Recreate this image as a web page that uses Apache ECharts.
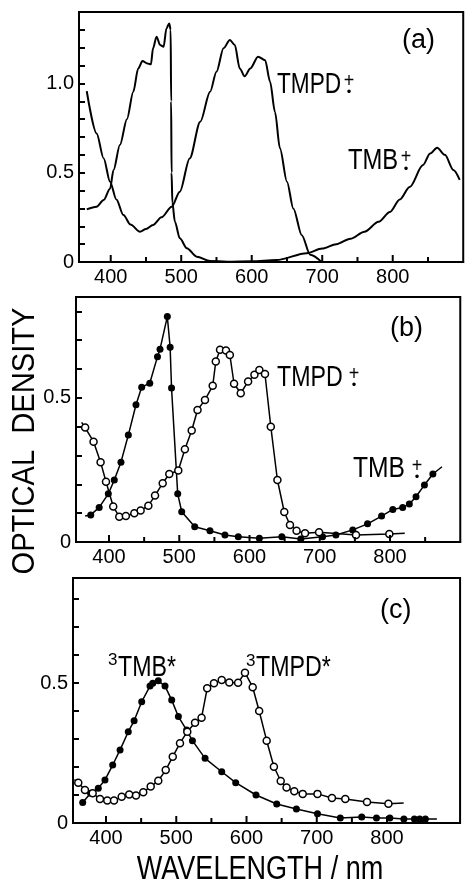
<!DOCTYPE html>
<html>
<head>
<meta charset="utf-8">
<script src="https://cdn.jsdelivr.net/npm/echarts@6/dist/echarts.min.js"></script>
<style>
html,body{margin:0;padding:0;background:#fff;}
#chart{width:466px;height:884px;}
</style>
</head>
<body>
<div id="chart"></div>
<script>
// axis ticks and labels
var xTicks = [400, 450, 500, 550, 600, 650, 700, 750, 800, 850];
var xLabels = [400, 500, 600, 700, 800];
var yLabelsA = [0, 0.5, 1.0];
var yLabelsBC = [0, 0.5];
var yTickStep = 0.1;

// (a) TMB+ and TMPD+ spectra (lines)
var tmbA_x = [366, 380, 390, 399, 404, 413, 423, 432, 439, 445, 452, 457, 460, 465, 470, 475, 479, 483, 485, 485.7, 486.3, 487.5, 491, 498, 508, 522, 541, 565, 600, 635, 678, 700, 720, 740, 760, 780, 796, 810, 824, 843, 853, 863, 874, 886, 895];
var tmbA_y = [0.295, 0.31, 0.347, 0.41, 0.515, 0.655, 0.80, 0.954, 1.084, 1.125, 1.112, 1.107, 1.197, 1.262, 1.215, 1.205, 1.308, 1.336, 1.30, 0.9, 0.5, 0.33, 0.226, 0.133, 0.077, 0.03, 0.006, 0.002, 0.004, 0.011, 0.049, 0.075, 0.10, 0.13, 0.17, 0.225, 0.28, 0.35, 0.42, 0.543, 0.608, 0.64, 0.60, 0.515, 0.46];
var tmpdA_x = [366, 380, 390, 399, 408, 418, 428, 441.5, 450, 460, 472, 486.5, 498, 512, 527, 541, 550, 560, 569, 576, 583, 590, 598, 609, 619, 626, 633, 640, 650, 659, 671, 683, 699];
var tmpdA_y = [0.957, 0.72, 0.58, 0.45, 0.35, 0.263, 0.21, 0.17, 0.185, 0.207, 0.25, 0.31, 0.394, 0.58, 0.786, 0.954, 1.066, 1.197, 1.243, 1.215, 1.084, 1.04, 1.084, 1.15, 1.13, 1.01, 0.84, 0.637, 0.45, 0.30, 0.15, 0.04, 0];

// (b) TMB+ (filled) and TMPD+ (open), first/last points are line ends without a mark
var tmbB_x = [366, 374, 386, 399, 407.5, 417, 427.5, 438.4, 446.5, 458, 469, 472.6, 483, 487, 489, 497.8, 503.5, 522, 543.7, 565, 584, 614, 646, 673, 704, 723, 747, 768, 788, 804, 818, 827.5, 837, 849, 861, 874];
var tmbB_y = [0.09, 0.094, 0.12, 0.167, 0.215, 0.277, 0.371, 0.476, 0.537, 0.551, 0.643, 0.669, 0.782, 0.676, 0.534, 0.167, 0.105, 0.053, 0.039, 0.024, 0.018, 0.013, 0.018, 0.01, 0.018, 0.024, 0.042, 0.063, 0.09, 0.113, 0.12, 0.132, 0.157, 0.198, 0.236, 0.261];
var tmpdB_x = [361, 366, 378, 388, 395.7, 406, 414.6, 424, 436, 445, 456, 465.5, 476.4, 485.8, 498.6, 508, 517.7, 526, 536.6, 547.6, 552, 558, 566.5, 572, 578, 587.5, 598, 607, 614, 622, 630.3, 639.7, 649.5, 657.6, 667, 679, 699, 751.6, 799, 821];
var tmpdB_y = [0.415, 0.397, 0.348, 0.277, 0.209, 0.123, 0.088, 0.09, 0.10, 0.109, 0.126, 0.161, 0.204, 0.236, 0.248, 0.322, 0.387, 0.458, 0.493, 0.542, 0.626, 0.667, 0.664, 0.649, 0.549, 0.516, 0.557, 0.58, 0.597, 0.583, 0.40, 0.215, 0.104, 0.059, 0.039, 0.030, 0.034, 0.024, 0.028, 0.03];

// (c) 3TMB* (filled) and 3TMPD* (open)
var tmbC_x = [366.8, 378, 389, 398.5, 409.5, 420, 431.7, 440, 450.8, 462.6, 466.5, 474.4, 484, 493.5, 503, 514.8, 523, 541, 564.7, 584.6, 613.5, 643, 671, 701, 733.5, 764, 785, 804, 824, 839, 846.5, 854.6, 871];
var tmbC_y = [0.073, 0.106, 0.124, 0.154, 0.207, 0.261, 0.326, 0.365, 0.433, 0.489, 0.499, 0.508, 0.489, 0.439, 0.38, 0.332, 0.294, 0.231, 0.183, 0.144, 0.10, 0.068, 0.05, 0.033, 0.018, 0.021, 0.018, 0.018, 0.014, 0.014, 0.014, 0.014, 0.014];
var tmpdC_x = [355, 360.5, 370, 381, 391.4, 401.8, 411.4, 422.3, 433, 442.7, 453, 463.6, 474.4, 485, 495, 505.3, 515.7, 526.7, 536, 544, 553.7, 564.7, 575.5, 588, 597.8, 608.8, 618, 628.7, 639, 648.7, 657, 668, 680, 701, 721.6, 740.6, 771.5, 802, 823.7];
var tmpdC_y = [0.155, 0.144, 0.118, 0.106, 0.086, 0.080, 0.080, 0.094, 0.102, 0.098, 0.11, 0.13, 0.151, 0.189, 0.237, 0.285, 0.326, 0.358, 0.376, 0.481, 0.499, 0.511, 0.502, 0.501, 0.537, 0.485, 0.40, 0.294, 0.201, 0.15, 0.127, 0.113, 0.104, 0.104, 0.089, 0.086, 0.075, 0.069, 0.071];

var FONT = "'Liberation Sans', Arial, sans-serif";

// panel frames: left/top/height in px, x range in nm, y max, px per nm
var panels = [
    { left: 79, top: 12, height: 250, xmin: 355, xmax: 900, ymax: 1.4, k: 0.705, yLabels: yLabelsA },
    { left: 76, top: 297, height: 245, xmin: 353, xmax: 900, ymax: 0.85, k: 0.7025, yLabels: yLabelsBC },
    { left: 73, top: 578, height: 245, xmin: 353, xmax: 904, ymax: 0.875, k: 0.7025, yLabels: yLabelsBC }
];

function pairs(xs, ys, bare) {
    return xs.map(function (x, i) {
        var d = { value: [x, ys[i]] };
        if (bare && bare.indexOf(i) >= 0) d.symbol = 'none';
        return d;
    });
}

var grids = [], xAxes = [], yAxes = [], series = [];
panels.forEach(function (p, i) {
    grids.push({ left: p.left, top: p.top, width: (p.xmax - p.xmin) * p.k, height: p.height,
        show: true, borderColor: '#000', borderWidth: 2 });
    xAxes.push({ type: 'value', gridIndex: i, min: p.xmin, max: p.xmax,
        axisLine: { lineStyle: { color: '#000', width: 2 } },
        axisTick: { show: false },
        axisLabel: { customValues: xLabels, margin: 5, color: '#000', fontSize: 20, fontFamily: FONT },
        splitLine: { show: false } });
    yAxes.push({ type: 'value', gridIndex: i, min: 0, max: p.ymax, interval: yTickStep,
        axisLine: { show: true, lineStyle: { color: '#000', width: 2 } },
        axisTick: { show: true, inside: true, length: 6, lineStyle: { color: '#000', width: 2 } },
        axisLabel: { margin: 5, color: '#000', fontSize: 20, fontFamily: FONT,
            formatter: function (v) {
                for (var j = 0; j < p.yLabels.length; j++) {
                    if (Math.abs(v - p.yLabels[j]) < 1e-6) return v === 0 ? '0' : v.toFixed(1);
                }
                return '';
            } },
        splitLine: { show: false } });
    // x ticks inward: long at labelled values, short between
    series.push({
        type: 'custom', xAxisIndex: i, yAxisIndex: i, silent: true, z: 5,
        data: xTicks.map(function (v) { return [v, 0]; }),
        encode: { x: 0, y: 1 },
        renderItem: function (params, api) {
            var v = api.value(0);
            var c = api.coord([v, 0]);
            var len = (v % 100 === 0) ? 7 : 5;
            return { type: 'line', shape: { x1: c[0], y1: c[1], x2: c[0], y2: c[1] - len },
                style: { stroke: '#000', lineWidth: 2 } };
        }
    });
});

function plain(name, gi, xs, ys) {
    return {
        name: name, type: 'line', xAxisIndex: gi, yAxisIndex: gi,
        data: pairs(xs, ys), showSymbol: false, smooth: 0.3, smoothMonotone: 'x',
        lineStyle: { color: '#000', width: 2 }
    };
}

function marked(name, gi, xs, ys, open, bare) {
    return {
        name: name, type: 'line', xAxisIndex: gi, yAxisIndex: gi,
        data: pairs(xs, ys, bare), symbol: 'circle', symbolSize: 7,
        lineStyle: { color: '#000', width: 1.5 },
        itemStyle: open ? { color: '#fff', borderColor: '#000', borderWidth: 1.5 } : { color: '#000' }
    };
}

function txt(s, x, y, size, sx, align, rot) {
    return {
        type: 'text', x: x, y: y, rotation: rot || 0, scaleX: sx || 1,
        style: { text: s, fontFamily: FONT, fontSize: size, fill: '#000', align: align || 'left', verticalAlign: 'middle' }
    };
}

// radical cation mark: "+" above a dot
function radical(cx, cyPlus, cyDot) {
    return [txt('+', cx, cyPlus, 20, 0.9, 'center'), txt('•', cx, cyDot, 13, 1, 'center')];
}

series = series.concat([
    plain('TMB+ (a)', 0, tmbA_x, tmbA_y),
    plain('TMPD+ (a)', 0, tmpdA_x, tmpdA_y),
    marked('TMB+ (b)', 1, tmbB_x, tmbB_y, false, [0, tmbB_x.length - 1]),
    marked('TMPD+ (b)', 1, tmpdB_x, tmpdB_y, true, [0, tmpdB_x.length - 1]),
    marked('3TMB* (c)', 2, tmbC_x, tmbC_y, false, [tmbC_x.length - 1]),
    marked('3TMPD* (c)', 2, tmpdC_x, tmpdC_y, true, [0, tmpdC_x.length - 1])
]);

var chart = echarts.init(document.getElementById('chart'));
var option = {
    backgroundColor: '#fff',
    animation: false,
    grid: grids,
    xAxis: xAxes,
    yAxis: yAxes,
    series: series,
    graphic: [
        txt('(a)', 402, 41, 27),
        txt('TMPD', 277, 85, 29, 0.78)
    ].concat(radical(349, 81, 92),
        [txt('TMB', 348, 161, 29, 0.82)], radical(406, 157, 169),
        [txt('(b)', 390, 329, 27), txt('TMPD', 277, 378, 29, 0.8)], radical(354, 374, 385),
        [txt('TMB', 353, 469, 29, 0.85)], radical(417, 466, 477),
        [txt('(c)', 380, 611, 27),
         txt('3', 108, 660, 17), txt('TMB*', 118, 668, 29, 0.8),
         txt('3', 246, 661, 17), txt('TMPD*', 256, 668, 29, 0.8),
         txt('OPTICAL  DENSITY', 25, 441, 32, 0.91, 'center', Math.PI / 2),
         txt('WAVELENGTH / nm', 260, 870, 33, 0.82, 'center')])
};
chart.setOption(option);
</script>
</body>
</html>
